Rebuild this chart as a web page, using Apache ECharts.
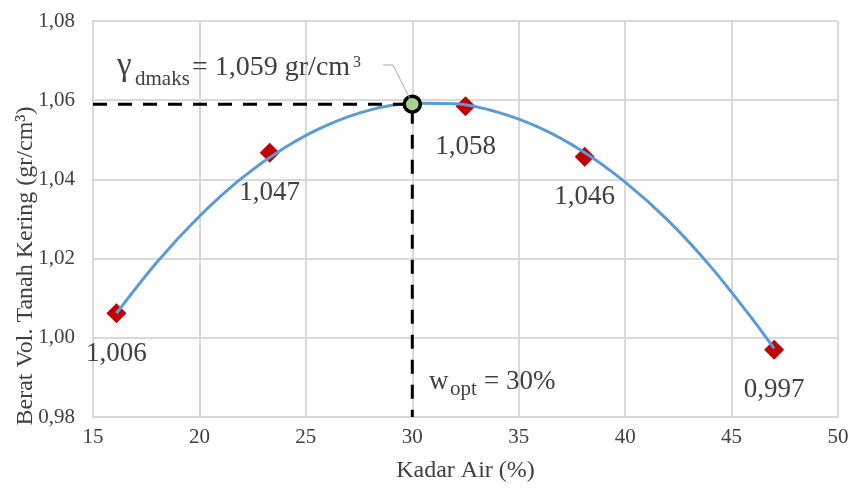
<!DOCTYPE html>
<html>
<head>
<meta charset="utf-8">
<script src="https://cdn.jsdelivr.net/npm/echarts@6/dist/echarts.min.js"></script>
<style>
html,body{margin:0;padding:0;background:#fff;}
#chart{width:853px;height:493px;}
</style>
</head>
<body>
<div id="chart"></div>
<script>
// Measured points (Kadar Air %, Berat Vol. Kering gr/cm3)
var pointX = [16.1, 23.3, 32.5, 38.1, 47.0];
var pointY = [1.0062, 1.0467, 1.0585, 1.0457, 0.9970];
var pointLabels = ['1,006', '1,047', '1,058', '1,046', '0,997'];

// Trendline
var curveX = [16.1, 18, 20, 22, 24, 26, 28, 30, 32, 34, 36, 38, 40, 42, 44, 46, 47];
var curveY = [1.0062, 1.0191, 1.0307, 1.0404, 1.0480, 1.0537, 1.0575, 1.0592, 1.0591, 1.0570, 1.0530, 1.0471, 1.0393, 1.0297, 1.0181, 1.0046, 0.9973];

// Optimum
var optX = [30];
var optY = [1.059];

// Guide lines
var guideX = [15, 30, 30];
var guideY = [1.059, 1.059, 0.98];

var xTicks = [15, 20, 25, 30, 35, 40, 45, 50];
var yTicks = [0.98, 1.00, 1.02, 1.04, 1.06, 1.08];

function zip(a, b) { return a.map(function (v, i) { return [v, b[i]]; }); }

var FONT = '"Liberation Serif", "Times New Roman", serif';
var TXT = '#404040';

var chart = echarts.init(document.getElementById('chart'));
chart.setOption({
  animation: false,
  backgroundColor: '#fff',
  grid: { left: 93, right: 15, top: 21, bottom: 76 },
  xAxis: {
    type: 'value', min: xTicks[0], max: xTicks[xTicks.length - 1], interval: 5,
    name: 'Kadar Air (%)', nameLocation: 'middle', nameGap: 42,
    nameTextStyle: { fontFamily: FONT, fontSize: 24, color: TXT },
    axisLine: { show: true, lineStyle: { color: '#D9D9D9', width: 2 } },
    axisTick: { show: false },
    axisLabel: { fontFamily: FONT, fontSize: 21, color: TXT, margin: 10 },
    splitLine: { show: true, lineStyle: { color: '#D9D9D9', width: 2 } }
  },
  yAxis: {
    type: 'value', min: yTicks[0], max: yTicks[yTicks.length - 1], interval: 0.02,
    axisLine: { show: true, lineStyle: { color: '#D9D9D9', width: 2 } },
    axisTick: { show: false },
    axisLabel: {
      fontFamily: FONT, fontSize: 21, color: TXT, margin: 18,
      formatter: function (v) { return v.toFixed(2).replace('.', ','); }
    },
    splitLine: { show: true, lineStyle: { color: '#D9D9D9', width: 2 } }
  },
  series: [
    {
      type: 'scatter', data: zip(pointX, pointY), symbol: 'diamond', symbolSize: 20, z: 2,
      itemStyle: { color: '#C00000', opacity: 1 },
      label: {
        show: true, position: 'bottom', distance: 17,
        fontFamily: FONT, fontSize: 27, color: TXT,
        formatter: function (p) { return pointLabels[p.dataIndex]; }
      }
    },
    {
      type: 'line', data: zip(curveX, curveY), smooth: 0.3, symbol: 'none', z: 3,
      lineStyle: { color: '#5B9BD5', width: 3 }
    },
    {
      type: 'line', data: zip(guideX, guideY), symbol: 'none', z: 4,
      lineStyle: { color: '#000', width: 3, type: [14, 11] }
    },
    {
      type: 'scatter', data: zip(optX, optY), symbol: 'circle', symbolSize: 16, z: 5,
      itemStyle: { color: '#A9D18E', borderColor: '#000', borderWidth: 3.5, opacity: 1 }
    }
  ],
  graphic: [
    { type: 'text', x: 26, y: 266, rotation: Math.PI / 2, z: 10,
      style: { text: 'Berat Vol. Tanah Kering (gr/cm³)', font: '24px ' + FONT, fill: TXT, align: 'center', verticalAlign: 'middle' } },
    // gamma annotation
    { type: 'text', x: 117, y: 66, z: 10,
      style: { text: 'γ', font: '33px ' + FONT, fill: TXT, align: 'left', verticalAlign: 'middle' } },
    { type: 'text', x: 135, y: 79, z: 10,
      style: { text: 'dmaks', font: '21px ' + FONT, fill: TXT, align: 'left', verticalAlign: 'middle' } },
    { type: 'text', x: 192, y: 68, z: 10,
      style: { text: '= 1,059 gr/cm', font: '28px ' + FONT, fill: TXT, align: 'left', verticalAlign: 'middle' } },
    { type: 'text', x: 353, y: 63, z: 10,
      style: { text: '3', font: '16px ' + FONT, fill: TXT, align: 'left', verticalAlign: 'middle' } },
    { type: 'polyline', z: 10,
      shape: { points: [[383, 65], [393, 65], [410, 99]] },
      style: { stroke: '#A6A6A6', lineWidth: 1, fill: null } },
    // w_opt annotation
    { type: 'text', x: 429, y: 382, z: 10,
      style: { text: 'w', font: '27px ' + FONT, fill: TXT, align: 'left', verticalAlign: 'middle' } },
    { type: 'text', x: 450, y: 389, z: 10,
      style: { text: 'opt', font: '21px ' + FONT, fill: TXT, align: 'left', verticalAlign: 'middle' } },
    { type: 'text', x: 484, y: 382, z: 10,
      style: { text: '= 30%', font: '27px ' + FONT, fill: TXT, align: 'left', verticalAlign: 'middle' } }
  ]
});
</script>
</body>
</html>
